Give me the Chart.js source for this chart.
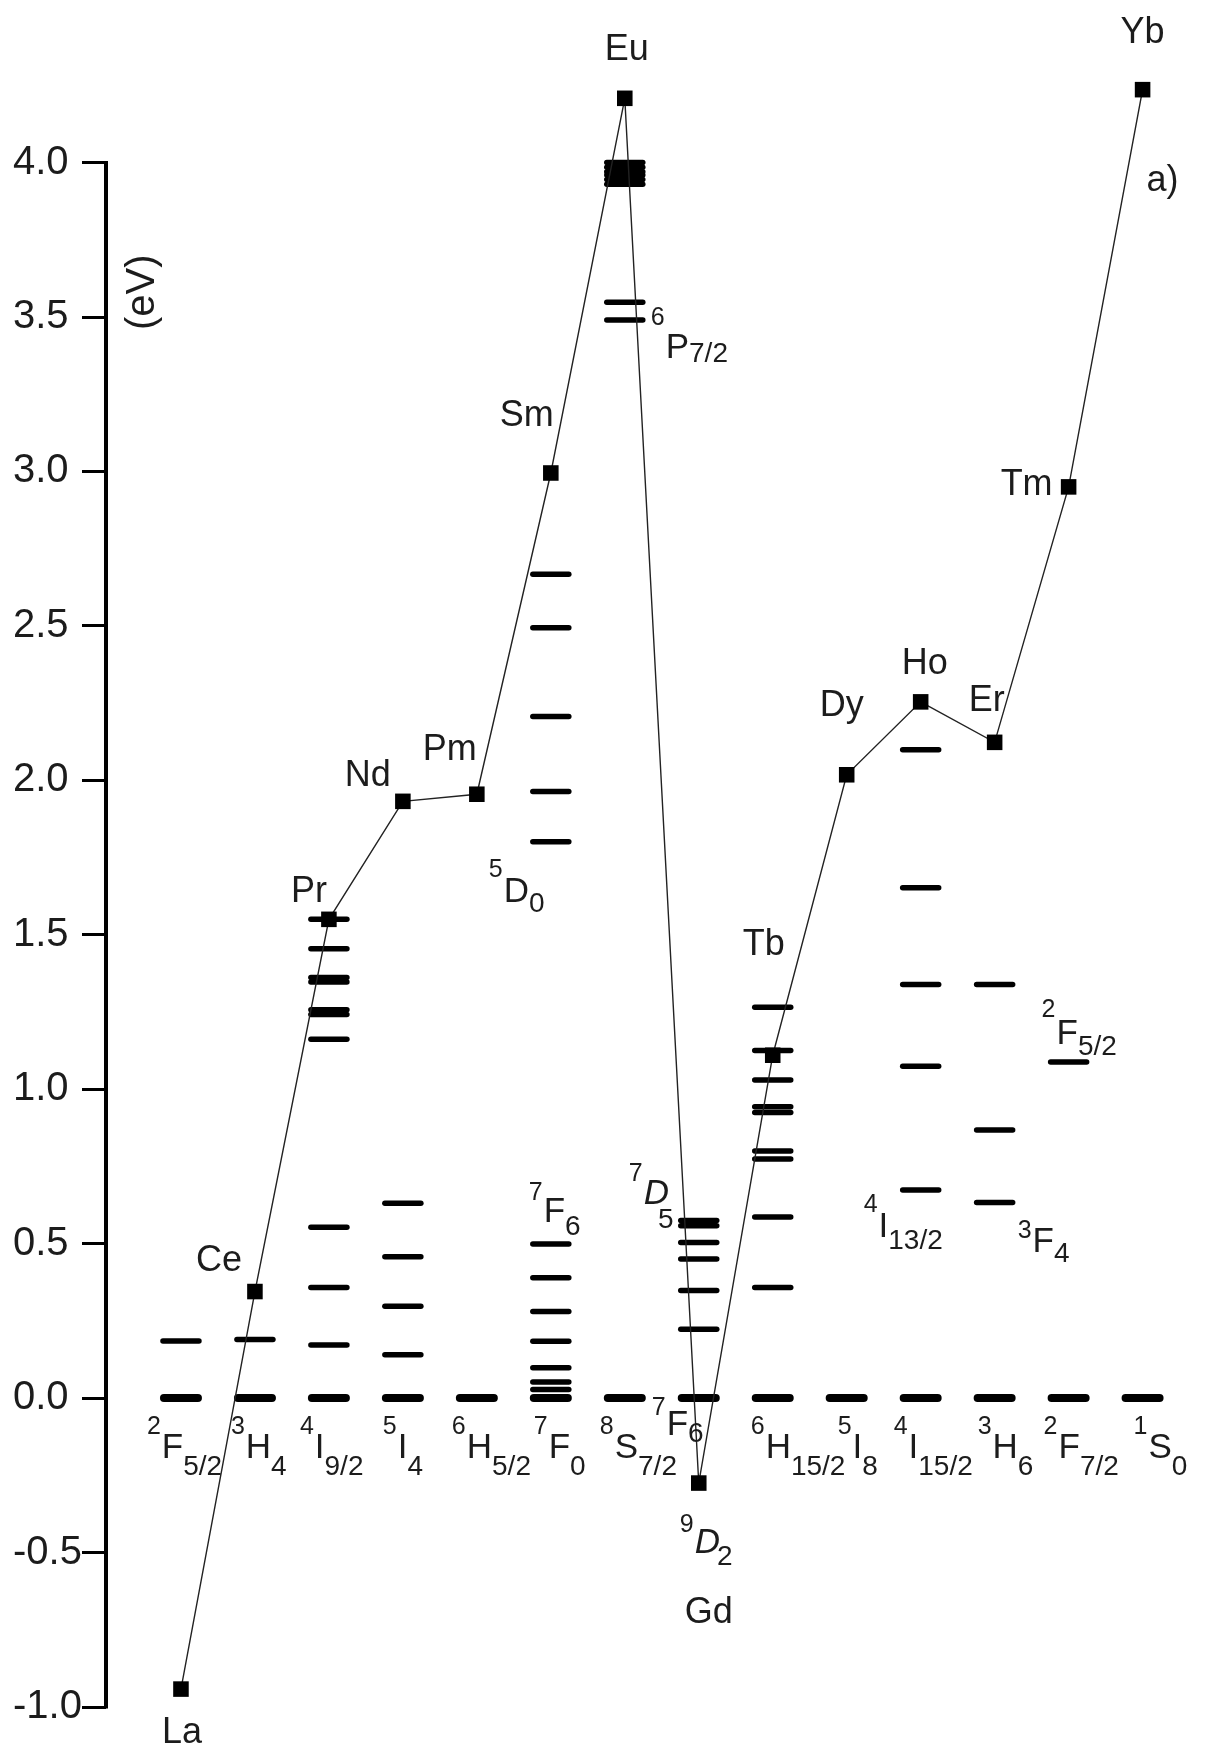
<!DOCTYPE html>
<html>
<head>
<meta charset="utf-8">
<title>Ln energy levels</title>
<script src="https://cdn.jsdelivr.net/npm/chart.js@4.4.1/dist/chart.umd.min.js"></script>
<style>
  html, body { margin: 0; padding: 0; background: #fff; }
</style>
</head>
<body>
<canvas id="chart" width="1210" height="1749"></canvas>
<script>
// Lanthanide columns (one per ion), 4f-5d energies (squares) in eV
const ions = ['La', 'Ce', 'Pr', 'Nd', 'Pm', 'Sm', 'Eu', 'Gd', 'Tb', 'Dy', 'Ho', 'Er', 'Tm', 'Yb'];
const energy5d = [-0.942, 0.345, 1.55, 1.932, 1.955, 2.995, 4.208, -0.275, 1.11, 2.018, 2.254, 2.123, 2.95, 4.236];

// Ground terms of the columns: [multiplicity, letter, J]
const groundTerms = [
  ['2', 'F', '5/2'], ['3', 'H', '4'], ['4', 'I', '9/2'], ['5', 'I', '4'], ['6', 'H', '5/2'],
  ['7', 'F', '0'], ['8', 'S', '7/2'], ['7', 'F', '6'], ['6', 'H', '15/2'], ['5', 'I', '8'],
  ['4', 'I', '15/2'], ['3', 'H', '6'], ['2', 'F', '7/2'], ['1', 'S', '0']
];

// Excited 4f levels of each column (eV), ground level is 0 for all
const excitedLevels = [
  [0.185],
  [0.19],
  [0.172, 0.358, 0.553, 1.162, 1.242, 1.257, 1.347, 1.362, 1.455, 1.55],
  [0.14, 0.297, 0.458, 0.631],
  [],
  [0.028, 0.052, 0.098, 0.184, 0.28, 0.39, 0.499, 1.801, 1.964, 2.207, 2.494, 2.667],
  [3.49, 3.548, 3.93, 3.945, 3.96, 3.97, 3.985, 4.0],
  [0.223, 0.348, 0.45, 0.504, 0.558, 0.575],
  [0.358, 0.586, 0.774, 0.8, 0.925, 0.943, 1.03, 1.125, 1.265],
  [],
  [0.674, 1.074, 1.339, 1.652, 2.099],
  [0.633, 0.868, 1.339],
  [1.088],
  []
];

// Extra term labels: [column, anchor energy, multiplicity, letter, subscript]
const extraTerms = [
  [5, 1.801, '5', 'D', '0'],
  [6, 3.49, '6', 'P', '7/2'],
  [5, 0.499, '7', 'F', '6'],
  [7, 0.575, '7', 'D', '5'],
  [7, -0.275, '9', 'D', '2'],
  [10, 0.674, '4', 'I', '13/2'],
  [11, 0.633, '3', 'F', '4'],
  [12, 1.088, '2', 'F', '5/2']
];

const yTicks = [-1.0, -0.5, 0.0, 0.5, 1.0, 1.5, 2.0, 2.5, 3.0, 3.5, 4.0];

// ---- placement of the annotations (pixels) ----
const FONT = '"Liberation Sans", Arial, Helvetica, sans-serif';
const INK = '#1c1c1c';
// offset of each element label centre from its square
const ionLabelOffset = [[1, 41], [-36, -34], [-20, -30], [-35, -28], [-27, -47], [-24, -60], [2, -51],
  [10, 127], [-9, -113], [-5, -72], [4, -41], [-8, -44], [-42, -5], [0, -60]];
// left edge of each ground term label relative to the column centre
const groundLabelDx = [-34, -24, -29, -20, -25, -17, -25, -47, -22, -9, -27, -17, -25, -9];
// style of the extra labels: dx, dy (baseline), supDy, subDy, subDx, italic
const extraTermStyle = [
  { dx: -62, dy: 60, supDy: -25, subDy: 10 },
  { dx: 26, dy: 38, supDy: -33, subDy: 4 },
  { dx: -22, dy: -22, supDy: -22, subDy: 13 },
  { dx: -70, dy: -17, supDy: -23, subDy: 24, subDx: -11, italic: true },
  { dx: -19, dy: 70, supDy: -21, subDy: 12, subDx: -3, italic: true },
  { dx: -57, dy: 47, supDy: -25, subDy: 12 },
  { dx: 23, dy: 49, supDy: -14, subDy: 10 },
  { dx: -27, dy: -18, supDy: -27, subDy: 11 }
];

// build point lists from the arrays
const squarePoints = ions.map((_, i) => ({ x: i, y: energy5d[i] }));
const groundPoints = ions.map((_, i) => ({ x: i, y: 0 }));
const excitedPoints = [];
excitedLevels.forEach((levels, i) => levels.forEach(e => excitedPoints.push({ x: i, y: e })));

function drawTerm(ctx, left, base, sup, letter, sub, st) {
  ctx.textAlign = 'left';
  ctx.textBaseline = 'alphabetic';
  ctx.font = '25px ' + FONT;
  ctx.fillText(sup, left, base + st.supDy);
  let x = left + ctx.measureText(sup).width + 1;
  ctx.font = (st.italic ? 'italic ' : '') + '35px ' + FONT;
  ctx.fillText(letter, x, base);
  x += ctx.measureText(letter).width + (st.subDx || 0);
  ctx.font = '28px ' + FONT;
  ctx.fillText(sub, x, base + st.subDy);
}

const annotations = {
  id: 'annotations',
  beforeDatasetsDraw(chart) {
    // the energy axis only runs from -1 to 4 eV
    const { ctx, scales: { y } } = chart;
    ctx.save();
    ctx.strokeStyle = '#000';
    ctx.lineWidth = 4;
    ctx.beginPath();
    ctx.moveTo(y.right, y.getPixelForValue(4.0) - 1.5);
    ctx.lineTo(y.right, y.getPixelForValue(-1.0) + 1.5);
    ctx.stroke();
    ctx.restore();
  },
  beforeDatasetDraw(chart) {
    chart.ctx.lineCap = 'round';
  },
  afterDatasetDraw(chart) {
    chart.ctx.lineCap = 'butt';
  },
  afterDraw(chart) {
    const { ctx, chartArea, scales: { x, y } } = chart;
    ctx.save();
    ctx.fillStyle = INK;

    // element names next to the squares
    ctx.font = '36px ' + FONT;
    ctx.textAlign = 'center';
    ctx.textBaseline = 'alphabetic';
    ions.forEach((name, i) => {
      const px = x.getPixelForValue(i) + ionLabelOffset[i][0];
      const py = y.getPixelForValue(energy5d[i]) + ionLabelOffset[i][1];
      ctx.fillText(name, px, py + 13);
    });

    // ground terms under the 0 eV levels
    groundTerms.forEach((t, i) => {
      const left = x.getPixelForValue(i) + groundLabelDx[i];
      const st = i === 7 ? { supDy: -20, subDy: 7 } : { supDy: -24, subDy: 17 };
      const base = y.getPixelForValue(0) + (i === 7 ? 37 : 60);
      drawTerm(ctx, left, base, t[0], t[1], t[2], st);
    });

    // labels of some excited levels
    extraTerms.forEach((t, k) => {
      const st = extraTermStyle[k];
      drawTerm(ctx, x.getPixelForValue(t[0]) + st.dx, y.getPixelForValue(t[1]) + st.dy, t[2], t[3], t[4], st);
    });

    // panel tag
    ctx.font = '36px ' + FONT;
    ctx.textAlign = 'center';
    ctx.fillText('a)', x.getPixelForValue(13) + 20, y.getPixelForValue(4.0) + 28);

    // axis unit, written along the axis inside the plot
    ctx.translate(chartArea.left + 37, y.getPixelForValue(3.58));
    ctx.rotate(-Math.PI / 2);
    ctx.font = '40px ' + FONT;
    ctx.textBaseline = 'middle';
    ctx.fillText('(eV)', 0, 0);
    ctx.restore();
  }
};

Chart.defaults.font.family = FONT;
Chart.defaults.color = INK;

new Chart(document.getElementById('chart'), {
  type: 'scatter',
  data: {
    datasets: [
      {
        label: '4f-5d',
        data: squarePoints,
        showLine: true,
        borderColor: '#222',
        borderWidth: 1.4,
        pointStyle: 'rect',
        pointRadius: 11,
        pointBorderWidth: 0,
        pointBackgroundColor: '#000',
        clip: false
      },
      {
        label: 'excited',
        data: excitedPoints,
        pointStyle: 'line',
        pointRadius: 18,
        pointBorderWidth: 5.5,
        pointBorderColor: '#000',
        clip: false
      },
      {
        label: 'ground',
        data: groundPoints,
        pointStyle: 'line',
        pointRadius: 17,
        pointBorderWidth: 8,
        pointBorderColor: '#000',
        clip: false
      }
    ]
  },
  options: {
    responsive: false,
    devicePixelRatio: 1,
    animation: false,
    events: [],
    layout: { padding: { left: 13, top: 39, right: 10, bottom: 42 } },
    plugins: {
      legend: { display: false },
      tooltip: { enabled: false }
    },
    scales: {
      x: {
        type: 'linear',
        display: false,
        min: -1.01333,
        max: 13.57333
      },
      y: {
        type: 'linear',
        min: -1.0,
        max: 4.4,
        afterFit: (scale) => { scale.width = 93; },
        afterBuildTicks: (scale) => { scale.ticks = yTicks.map(v => ({ value: v })); },
        border: { display: false },
        grid: {
          drawOnChartArea: false,
          drawTicks: true,
          tickLength: 24,
          tickWidth: 3,
          tickColor: '#000'
        },
        ticks: {
          crossAlign: 'far',
          padding: 4,
          color: INK,
          font: { size: 40 },
          callback: (v) => v.toFixed(1)
        }
      }
    }
  },
  plugins: [annotations]
});
</script>
</body>
</html>
